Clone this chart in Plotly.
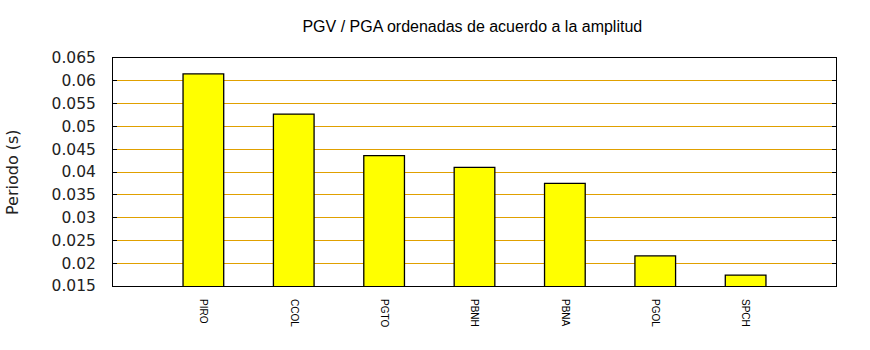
import plotly.graph_objects as go

stations = ["PIRO", "CCOL", "PGTO", "PBNH", "PBNA", "PGOL", "SPCH"]
values = [0.0615, 0.0527, 0.0436, 0.0410, 0.0375, 0.0216, 0.0174]
y_ticks = [0.015, 0.02, 0.025, 0.03, 0.035, 0.04, 0.045, 0.05, 0.055, 0.06, 0.065]
y_tick_labels = ["0.015", "0.02", "0.025", "0.03", "0.035", "0.04", "0.045",
                 "0.05", "0.055", "0.06", "0.065"]

fig = go.Figure()
fig.add_trace(go.Bar(
    x=stations, y=values, width=0.45,
    marker=dict(color="#ffff00", line=dict(color="black", width=1.3)),
    showlegend=False,
))

fig.update_layout(
    width=870, height=350,
    margin=dict(l=113, r=34, t=58, b=64),
    paper_bgcolor="white", plot_bgcolor="white",
    title=dict(text="PGV / PGA ordenadas de acuerdo a la amplitud",
               font=dict(family="Liberation Sans", size=16, color="black"),
               xref="paper", x=0.497, xanchor="center",
               yref="container", y=1 - 26 / 350, yanchor="middle"),
    xaxis=dict(type="category", range=[-1, 7], showgrid=False, ticks="",
               tickangle=90, tickfont=dict(family="Liberation Sans", size=10, color="black"),
               showline=True, linecolor="black", linewidth=1, mirror=True,
               ticklabelstandoff=10),
    yaxis=dict(range=[0.015, 0.065], tickvals=y_ticks, ticktext=y_tick_labels,
               showgrid=True, gridcolor="#e0a000", gridwidth=1,
               ticks="inside", ticklen=4, tickcolor="black", tickwidth=1,
               showline=True, linecolor="black", linewidth=1, mirror="ticks",
               zeroline=False,
               tickfont=dict(family="DejaVu Sans", size=15.5, color="#222222"),
               ticklabelstandoff=13),
    annotations=[dict(text="Periodo (s)", xref="paper", yref="paper",
                      x=0, y=0.5, xanchor="center", yanchor="middle",
                      xshift=-101, textangle=-90, showarrow=False,
                      font=dict(family="DejaVu Sans", size=16, color="#222222"))],
)

fig.write_html("out.html")
